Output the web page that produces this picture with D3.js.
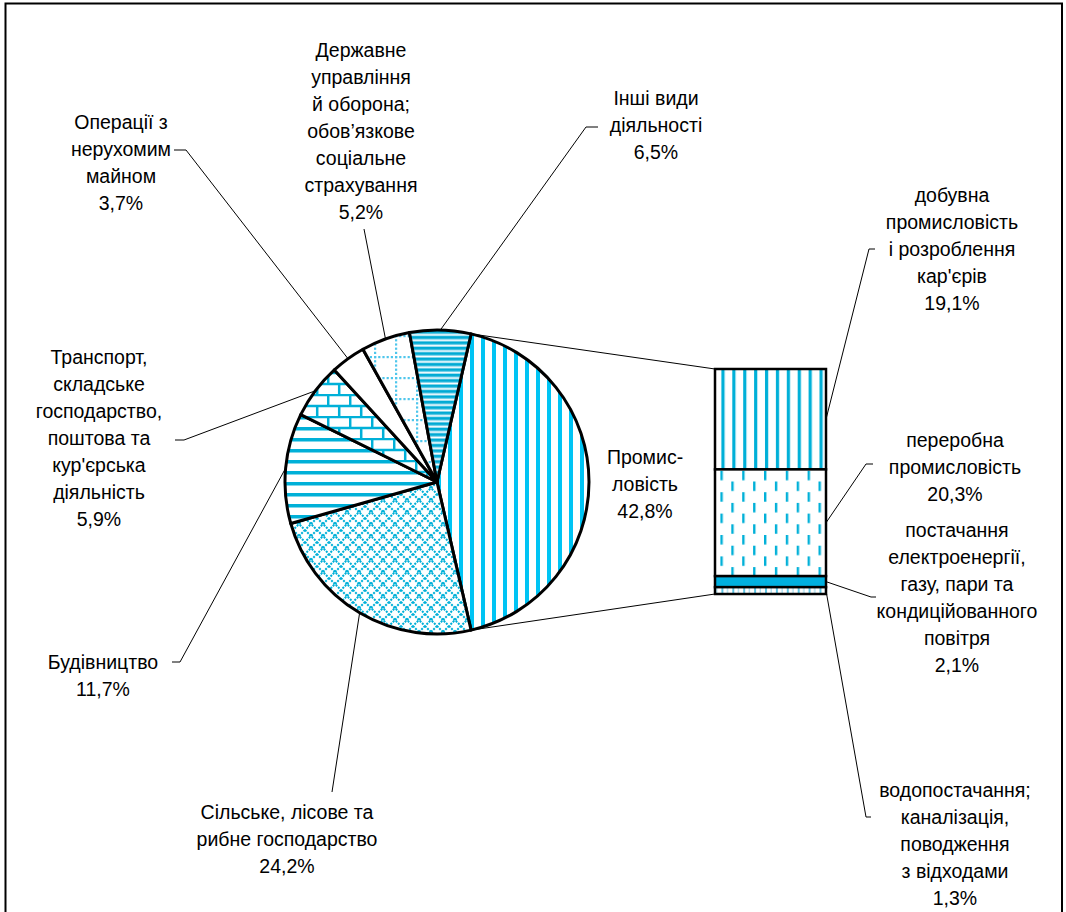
<!DOCTYPE html>
<html>
<head>
<meta charset="utf-8">
<script src="https://cdnjs.cloudflare.com/ajax/libs/d3/7.8.5/d3.min.js"></script>
<style>
  body { margin: 0; background: #fff; }
  text { font-family: "Liberation Sans", Arial, sans-serif; font-size: 19.5px; fill: #000; }
</style>
</head>
<body>
<script>
// pie data (clockwise, starting with the split slice)
var pieNames = ["Промисловість", "Сільське, лісове та рибне господарство", "Будівництво",
  "Транспорт", "Операції з нерухомим майном", "Державне управління", "Інші види діяльності"];
var pieValues = [42.8, 24.2, 11.7, 5.9, 3.7, 5.2, 6.5];
var pieLines = [
  ["Промис-", "ловість", "42,8%"],
  ["Сільське, лісове та", "рибне господарство", "24,2%"],
  ["Будівництво", "11,7%"],
  ["Транспорт,", "складське", "господарство,", "поштова та", "кур'єрська", "діяльність", "5,9%"],
  ["Операції з", "нерухомим", "майном", "3,7%"],
  ["Державне", "управління", "й оборона;", "обов’язкове", "соціальне", "страхування", "5,2%"],
  ["Інші види", "діяльності", "6,5%"]
];

// bar data (top to bottom)
var barNames = ["добувна", "переробна", "постачання", "водопостачання"];
var barValues = [19.1, 20.3, 2.1, 1.3];
var barLines = [
  ["добувна", "промисловість", "і розроблення", "кар'єрів", "19,1%"],
  ["переробна", "промисловість", "20,3%"],
  ["постачання", "електроенергії,", "газу, пари та", "кондиційованного", "повітря", "2,1%"],
  ["водопостачання;", "каналізація,", "поводження", "з відходами", "1,3%"]
];

// layout
var W = 1066, H = 912;
var cx = 437, cy = 482, r = 152;
var bar = {x: 715, w: 111, top: 369, bottom: 594};
var lh = 27;

// label anchor: centre x, first baseline, leader end (x, y) and tick end
var pieLabelPos = [
  {x: 645, y: 464},
  {x: 287, y: 819, lx: 332, ly: 792},
  {x: 103, y: 669, lx: 180, ly: 662, tx: 172},
  {x: 99,  y: 364, lx: 184, ly: 440, tx: 175},
  {x: 121, y: 129, lx: 186, ly: 150, tx: 174},
  {x: 361, y: 57,  lx: 364, ly: 229},
  {x: 656, y: 105, lx: 586, ly: 127, tx: 598}
];
var barLabelPos = [
  {x: 952, y: 202, lx: 869, ly: 249, tx: 875},
  {x: 955, y: 447, lx: 866, ly: 464, tx: 873},
  {x: 957, y: 537, lx: 871, ly: 597, tx: 876},
  {x: 955, y: 797, lx: 866, ly: 817, tx: 871}
];

var svg = d3.select("body").append("svg")
  .attr("width", W).attr("height", H);

var defs = svg.append("defs");
var cyan = "#00b0d8";

function pat(id, w, h) {
  var p = defs.append("pattern").attr("id", id)
    .attr("patternUnits", "userSpaceOnUse")
    .attr("width", w).attr("height", h);
  p.append("rect").attr("width", w).attr("height", h).attr("fill", "#fff");
  return p;
}

// industry: wide vertical stripes
var p = pat("pInd", 11, 11);
p.append("rect").attr("x", 0).attr("width", 4).attr("height", 11).attr("fill", "#00c4f4");

// agriculture: dotted diamond lattice
p = pat("pAgri", 12, 12);
p.append("path").attr("d", "M0,0L12,12M12,0L0,12M-6,6L0,0M6,-6L0,0")
  .attr("stroke", cyan).attr("stroke-width", 2).attr("stroke-dasharray", "2,1.2").attr("fill", "none");

// construction: horizontal stripes
p = pat("pBuild", 11, 11);
p.append("rect").attr("y", 0).attr("width", 11).attr("height", 3.5).attr("fill", cyan);

// transport: bricks
p = pat("pTrans", 22, 22);
p.append("path").attr("d", "M0,1H22M0,12H22M1.2,0V11M12.2,11V22")
  .attr("stroke", cyan).attr("stroke-width", 2.5).attr("fill", "none");

// government: dotted grid
p = pat("pGov", 21, 21);
for (var i = 0; i < 21; i += 4.2) {
  p.append("rect").attr("x", i).attr("y", 0).attr("width", 2.2).attr("height", 2.2).attr("fill", "#4ec6ec");
  p.append("rect").attr("x", 0).attr("y", i).attr("width", 2.2).attr("height", 2.2).attr("fill", "#4ec6ec");
}

// other: narrow horizontal stripes
p = pat("pOther", 11, 5.4);
p.append("rect").attr("y", 0).attr("width", 11).attr("height", 2.6).attr("fill", "#00aad4");
p.append("rect").attr("y", 2.6).attr("width", 11).attr("height", 1).attr("fill", "#8ed8ee");
p.append("rect").attr("y", 4.6).attr("width", 11).attr("height", 0.8).attr("fill", "#8ed8ee");

// mining: vertical stripes
p = pat("pMin", 10.9, 10);
p.append("rect").attr("x", 2).attr("width", 3.2).attr("height", 10).attr("fill", cyan);

// processing: dashed vertical
p = pat("pProc", 21.8, 21.4);
p.append("rect").attr("x", 1).attr("y", 0).attr("width", 2.4).attr("height", 9.5).attr("fill", cyan);
p.append("rect").attr("x", 11.9).attr("y", 10.7).attr("width", 2.4).attr("height", 9.5).attr("fill", cyan);

// water: light vertical stripes
p = pat("pWater", 10.9, 10);
p.append("rect").attr("x", 2).attr("width", 2).attr("height", 10).attr("fill", "#5cc4e4");
p.append("rect").attr("x", 7.5).attr("width", 1.4).attr("height", 10).attr("fill", "#a8def0");

var pieFills = ["url(#pInd)", "url(#pAgri)", "url(#pBuild)", "url(#pTrans)", "#fff", "url(#pGov)", "url(#pOther)"];
var barFills = ["url(#pMin)", "url(#pProc)", "#00b0e0", "url(#pWater)"];

// frame
svg.append("rect").attr("x", 5.5).attr("y", 3.5).attr("width", 1056.5).attr("height", 915)
  .attr("fill", "none").attr("stroke", "#000").attr("stroke-width", 2);

var total = d3.sum(pieValues);
var span = pieValues[0] / total * 2 * Math.PI;
var pie = d3.pie().sort(null).value(function(d) { return d; })
  .startAngle(Math.PI / 2 - span / 2).endAngle(Math.PI / 2 - span / 2 + 2 * Math.PI);
var arcs = pie(pieValues);
var arc = d3.arc().innerRadius(0).outerRadius(r);

function onCircle(a) { return [cx + r * Math.sin(a), cy - r * Math.cos(a)]; }

// connector lines from split slice to bar
var y = d3.scaleLinear().domain([0, d3.sum(barValues)]).range([bar.top, bar.bottom]);
var p1 = onCircle(arcs[0].startAngle), p2 = onCircle(arcs[0].endAngle);
svg.append("line").attr("x1", p1[0]).attr("y1", p1[1]).attr("x2", bar.x).attr("y2", bar.top)
  .attr("stroke", "#000").attr("stroke-width", 1);
svg.append("line").attr("x1", p2[0]).attr("y1", p2[1]).attr("x2", bar.x).attr("y2", bar.bottom)
  .attr("stroke", "#000").attr("stroke-width", 1);

// leader lines
function leader(from, pos) {
  if (pos.lx === undefined) return;
  var pts = [from, [pos.lx, pos.ly]];
  if (pos.tx !== undefined) pts.push([pos.tx, pos.ly]);
  svg.append("path").attr("d", d3.line()(pts))
    .attr("fill", "none").attr("stroke", "#000").attr("stroke-width", 1);
}
arcs.forEach(function(d, i) {
  leader(onCircle((d.startAngle + d.endAngle) / 2), pieLabelPos[i]);
});

// pie slices
svg.append("g").attr("transform", "translate(" + cx + "," + cy + ")")
  .selectAll("path").data(arcs).enter().append("path")
  .attr("d", arc)
  .attr("fill", function(d, i) { return pieFills[i]; })
  .attr("stroke", "#000").attr("stroke-width", 3).attr("stroke-linejoin", "round");

// bar segments
var cum = 0;
var segs = barValues.map(function(v) { var s = {y0: cum, y1: cum + v}; cum += v; return s; });
segs.forEach(function(s, i) {
  var mid = (y(s.y0) + y(s.y1)) / 2;
  leader([bar.x + bar.w, mid], barLabelPos[i]);
});
svg.append("g").selectAll("rect").data(segs).enter().append("rect")
  .attr("x", bar.x).attr("width", bar.w)
  .attr("y", function(d) { return y(d.y0); })
  .attr("height", function(d) { return y(d.y1) - y(d.y0); })
  .attr("fill", function(d, i) { return barFills[i]; })
  .attr("stroke", "#000").attr("stroke-width", 2.5);

// labels
function label(lines, pos) {
  var t = svg.append("text").attr("text-anchor", "middle");
  lines.forEach(function(s, k) {
    t.append("tspan").attr("x", pos.x).attr("y", pos.y + k * lh).text(s);
  });
}
pieLines.forEach(function(l, i) { label(l, pieLabelPos[i]); });
barLines.forEach(function(l, i) { label(l, barLabelPos[i]); });
</script>
</body>
</html>
